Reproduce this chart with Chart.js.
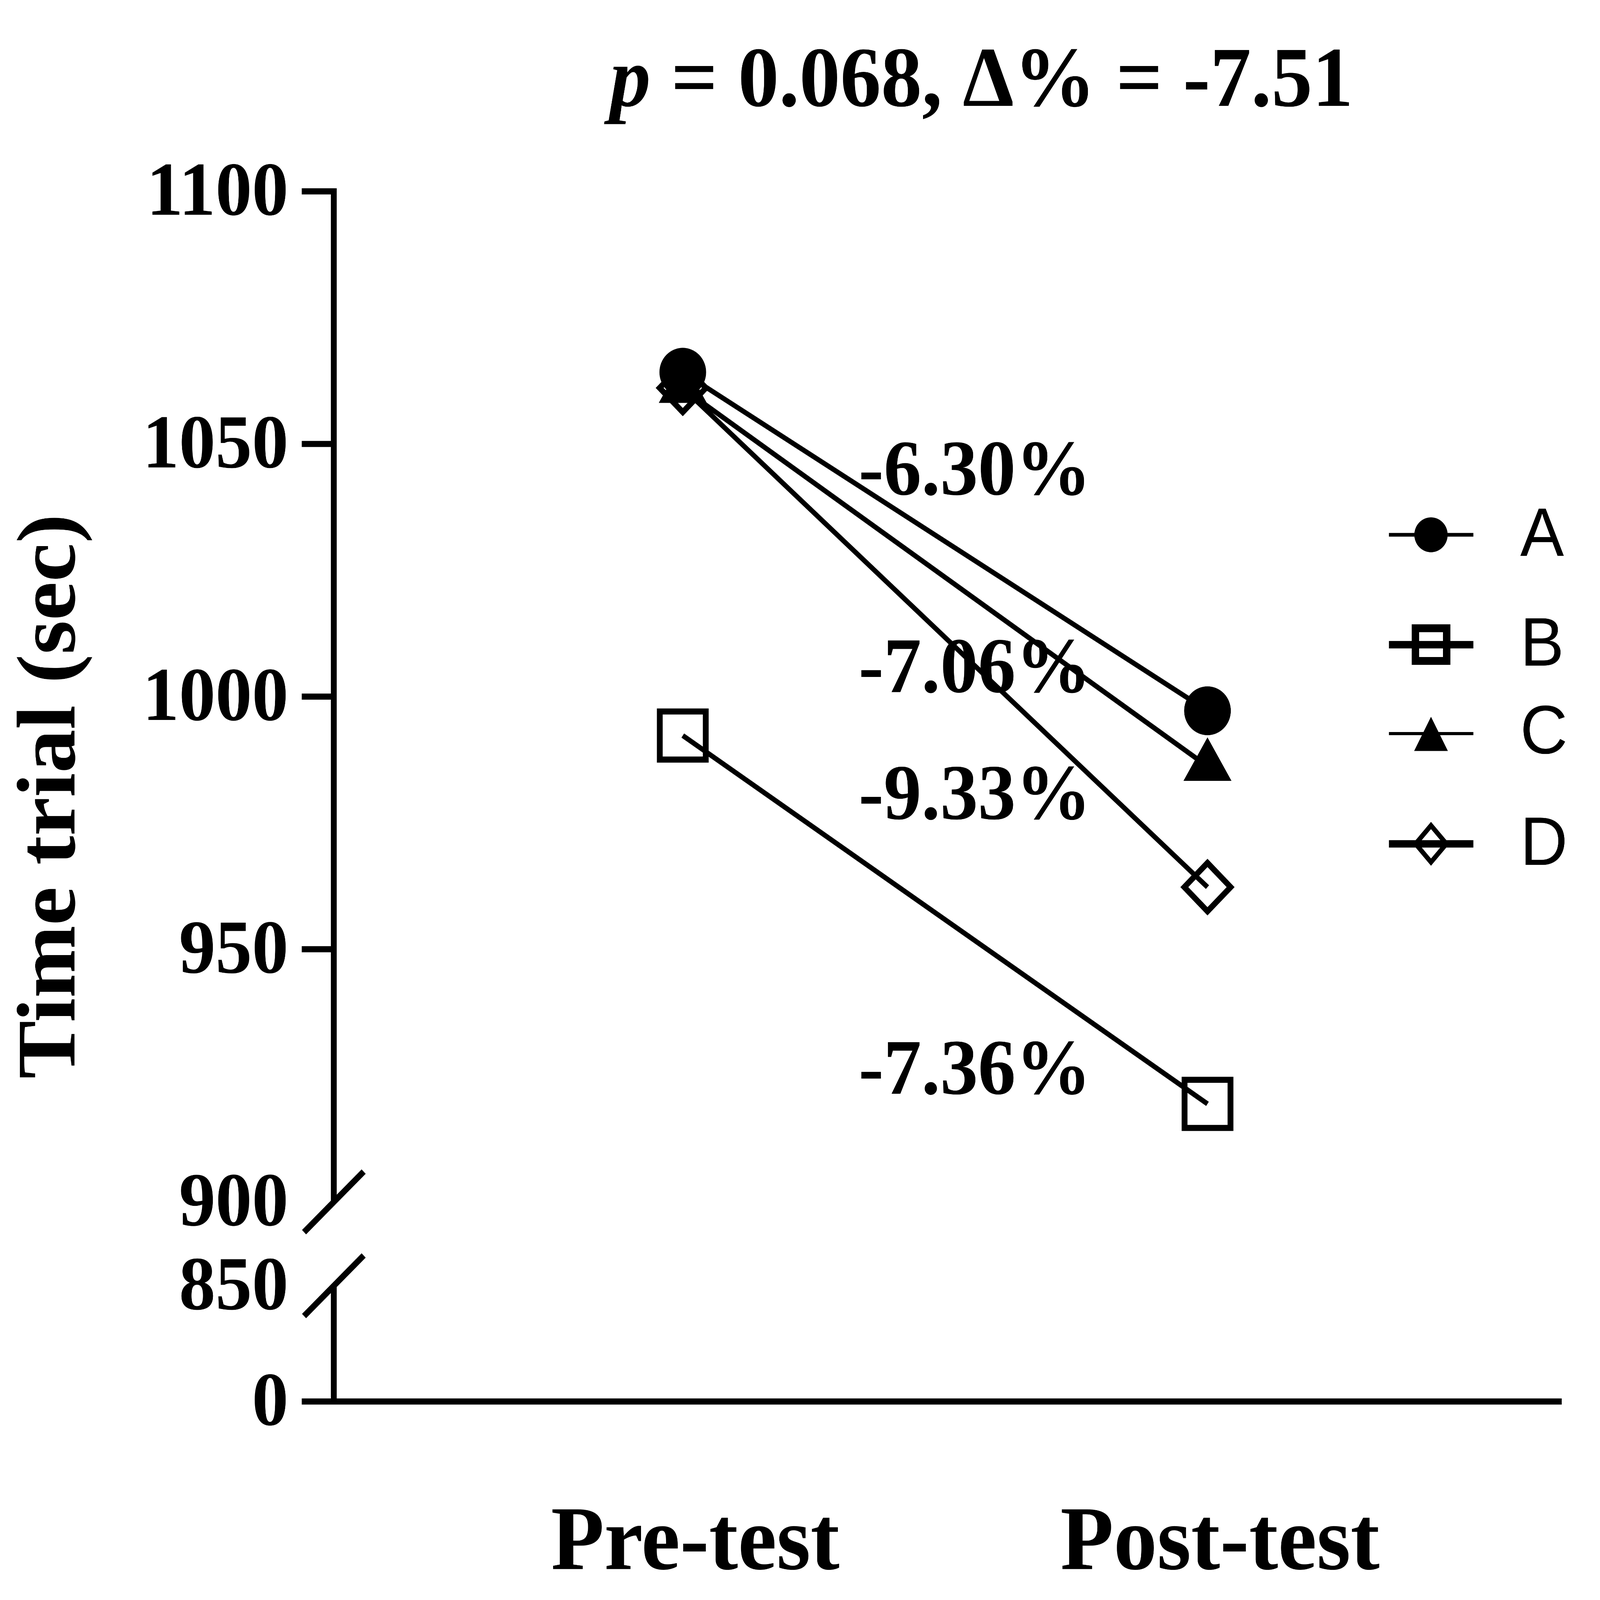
<!DOCTYPE html>
<html>
<head>
<meta charset="utf-8">
<title>Time trial</title>
<script src="https://cdn.jsdelivr.net/npm/chart.js@4.4.1/dist/chart.umd.min.js"></script>
<style>
  html, body { margin: 0; padding: 0; background: #fff; overflow: hidden; }
  canvas { display: block; width: 100vw; height: 100vh; }
</style>
</head>
<body>
<canvas id="chart" width="7678" height="7342" style="width:100vw;height:100vh"></canvas>
<script>
const timepoints = ['Pre-test', 'Post-test'];
const seriesNames = ['A', 'B', 'C', 'D'];
const seriesA = [1064.2, 997.2];
const seriesB = [992.3, 919.4];
const seriesC = [1061.0, 986.2];
const seriesD = [1061.1, 962.3];
const changeLabels = ['-6.30%', '-7.36%', '-7.06%', '-9.33%'];
const yTickValues = [0, 850, 900, 950, 1000, 1050, 1100];
const pValue = '0.068';
const meanChange = '-7.51';

// values below the break get squeezed into the short stub under 900
const breakStub = { 850: 883.4, 0: 860.5 };
function axisPos(v) {
    return v >= 900 ? v : breakStub[v];
}

// where the % labels sit (x in category units, y in seconds) and legend rows
const changeLabelPos = [
    { x: 1.335, y: 1040.0 },
    { x: 1.335, y: 921.4 },
    { x: 1.335, y: 1000.9 },
    { x: 1.335, y: 975.8 }
];
const legendRows = [
    { y: 2454, line: 17, textY: 2551 },
    { y: 2958, line: 34, textY: 3054 },
    { y: 3366, line: 14, textY: 3457 },
    { y: 3872, line: 34, textY: 3969 }
];

const SERIF = "'Liberation Serif', serif";
const SANS = "'Liberation Sans', Arial, sans-serif";
const AXIS_W = 28;

Chart.defaults.color = '#000';
Chart.defaults.font.family = SERIF;
Chart.defaults.font.weight = 'bold';

function toPoints(values) {
    return values.map((v, i) => ({ x: i + 1, y: v }));
}

const styles = [
    { pointStyle: 'circle', radius: 111, border: 2, fill: '#000' },
    { pointStyle: 'rect', radius: 156, border: 28, fill: 'rgba(0,0,0,0)' },
    { pointStyle: 'triangle', radius: 131, border: 2, fill: '#000' },
    { pointStyle: 'rectRot', radius: 111, border: 27, fill: 'rgba(0,0,0,0)' }
];

const datasets = [seriesA, seriesB, seriesC, seriesD].map((vals, i) => ({
    label: seriesNames[i],
    data: toPoints(vals),
    borderColor: '#000',
    borderWidth: 23,
    tension: 0,
    fill: false,
    pointStyle: styles[i].pointStyle,
    pointRadius: styles[i].radius,
    pointBorderWidth: styles[i].border,
    pointBackgroundColor: styles[i].fill,
    pointBorderColor: '#000',
    clip: false
}));

const axisPlugin = {
    id: 'brokenAxis',
    afterDraw(chart) {
        const ctx = chart.ctx;
        const yS = chart.scales.y;
        const area = chart.chartArea;
        const x0 = area.left;
        const tickStart = x0 - 154;
        const yTop = yS.getPixelForValue(1100) - AXIS_W / 2;
        const yBreakHi = yS.getPixelForValue(900);
        const yBreakLo = yS.getPixelForValue(axisPos(850));
        const yZero = yS.getPixelForValue(axisPos(0));

        ctx.save();
        ctx.strokeStyle = '#000';
        ctx.lineWidth = AXIS_W;
        ctx.lineCap = 'butt';

        ctx.beginPath();
        ctx.moveTo(x0, yTop);
        ctx.lineTo(x0, yBreakHi);
        ctx.moveTo(x0, yBreakLo);
        ctx.lineTo(x0, yZero + AXIS_W / 2);
        ctx.stroke();

        // x axis, running out left as the tick for 0
        ctx.beginPath();
        ctx.moveTo(tickStart, yZero);
        ctx.lineTo(area.right, yZero);
        ctx.stroke();

        yTickValues.filter(v => v > 900).forEach(v => {
            const y = yS.getPixelForValue(v);
            ctx.beginPath();
            ctx.moveTo(tickStart, y);
            ctx.lineTo(x0, y);
            ctx.stroke();
        });

        [yBreakHi, yBreakLo].forEach(y => {
            ctx.beginPath();
            ctx.moveTo(x0 - 143, y + 139);
            ctx.lineTo(x0 + 143, y - 139);
            ctx.stroke();
        });
        ctx.restore();
    }
};

const annotationPlugin = {
    id: 'changeLabels',
    afterDatasetsDraw(chart) {
        const ctx = chart.ctx;
        ctx.save();
        ctx.fillStyle = '#000';
        ctx.font = `bold 362px ${SERIF}`;
        ctx.textAlign = 'left';
        ctx.textBaseline = 'alphabetic';
        changeLabels.forEach((txt, i) => {
            const p = changeLabelPos[i];
            ctx.fillText(txt, chart.scales.x.getPixelForValue(p.x), chart.scales.y.getPixelForValue(p.y));
        });
        ctx.restore();
    }
};

const titlePlugin = {
    id: 'statTitle',
    afterDraw(chart) {
        const ctx = chart.ctx;
        const size = 392;
        const parts = [
            ['p', `italic bold ${size}px ${SERIF}`],
            [` = ${pValue}, \u0394% = ${meanChange}`, `bold ${size}px ${SERIF}`]
        ];
        ctx.save();
        ctx.fillStyle = '#000';
        ctx.textBaseline = 'alphabetic';
        ctx.textAlign = 'left';
        let total = 0;
        const widths = parts.map(([t, f]) => {
            ctx.font = f;
            const w = ctx.measureText(t).width;
            total += w;
            return w;
        });
        let x = 4710 - total / 2;
        parts.forEach(([t, f], i) => {
            ctx.font = f;
            ctx.fillText(t, x, 486);
            x += widths[i];
        });
        ctx.restore();
    }
};

function drawMarker(ctx, style, cx, cy) {
    ctx.beginPath();
    if (style === 'circle') {
        ctx.arc(cx, cy, 80, 0, Math.PI * 2);
        ctx.fill();
    } else if (style === 'rect') {
        ctx.lineWidth = 36;
        ctx.rect(cx - 75, cy - 75, 150, 150);
        ctx.stroke();
    } else if (style === 'triangle') {
        ctx.moveTo(cx, cy - 77);
        ctx.lineTo(cx + 81, cy + 80);
        ctx.lineTo(cx - 81, cy + 80);
        ctx.closePath();
        ctx.fill();
    } else {
        ctx.lineWidth = 22;
        ctx.moveTo(cx - 74, cy);
        ctx.lineTo(cx, cy - 84);
        ctx.lineTo(cx + 74, cy);
        ctx.lineTo(cx, cy + 84);
        ctx.closePath();
        ctx.stroke();
    }
}

const legendPlugin = {
    id: 'sideLegend',
    afterDraw(chart) {
        const ctx = chart.ctx;
        ctx.save();
        ctx.fillStyle = '#000';
        ctx.strokeStyle = '#000';
        ctx.lineCap = 'butt';
        ctx.lineJoin = 'miter';
        chart.data.datasets.forEach((ds, i) => {
            const row = legendRows[i];
            ctx.lineWidth = row.line;
            ctx.beginPath();
            ctx.moveTo(6665, row.y);
            ctx.lineTo(7070, row.y);
            ctx.stroke();
            drawMarker(ctx, ds.pointStyle, 6867, row.y);
            ctx.font = `315px ${SANS}`;
            ctx.textAlign = 'left';
            ctx.textBaseline = 'alphabetic';
            ctx.fillText(ds.label, 7295, row.textY);
        });
        ctx.restore();
    }
};

new Chart(document.getElementById('chart'), {
    type: 'line',
    data: { datasets },
    plugins: [axisPlugin, annotationPlugin, titlePlugin, legendPlugin],
    options: {
        responsive: false,
        devicePixelRatio: 1,
        animation: false,
        events: [],
        layout: { padding: { top: 878, right: 118, bottom: 0, left: 0 } },
        plugins: {
            legend: { display: false },
            tooltip: { enabled: false },
            title: { display: false }
        },
        scales: {
            x: {
                type: 'linear',
                min: 0.335,
                max: 2.675,
                grid: { display: false, drawTicks: false },
                border: { display: false },
                afterBuildTicks: (scale) => {
                    scale.ticks = timepoints.map((_, i) => ({ value: i + 1 }));
                },
                afterFit: (scale) => { scale.height = 911; },
                ticks: {
                    autoSkip: false,
                    maxRotation: 0,
                    padding: 410,
                    labelOffset: 60,
                    font: { size: 418, weight: 'bold', lineHeight: 1.2 },
                    callback: (value) => timepoints[Math.round(value) - 1]
                }
            },
            y: {
                type: 'linear',
                min: axisPos(0),
                max: 1100,
                grid: { display: false, drawTicks: false },
                border: { display: false },
                afterBuildTicks: (scale) => {
                    scale.ticks = yTickValues.map(v => ({ value: axisPos(v) }));
                },
                afterFit: (scale) => { scale.width = 1602; },
                ticks: {
                    autoSkip: false,
                    padding: 218,
                    labelOffset: 17,
                    font: { size: 350, weight: 'bold', lineHeight: 1.2 },
                    callback: (value, index) => String(yTickValues[index])
                },
                title: {
                    display: true,
                    text: 'Time trial (sec)',
                    padding: { top: 14, bottom: 0 },
                    font: { size: 400, weight: 'bold', lineHeight: 1.2 }
                }
            }
        }
    }
});
</script>
</body>
</html>
